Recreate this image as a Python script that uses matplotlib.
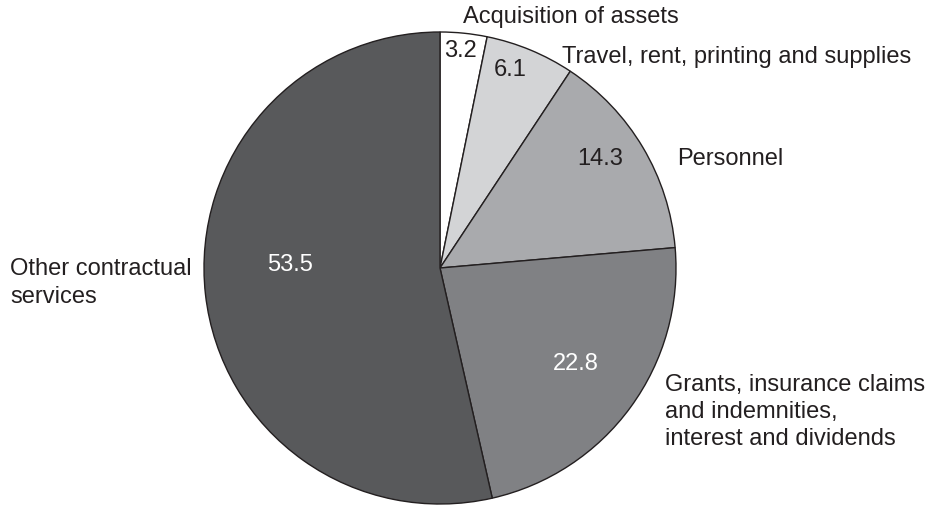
import matplotlib
matplotlib.use('Agg')
import matplotlib.pyplot as plt

# Shares of expenditure (percent)
categories = ['Acquisition of assets', 'Travel, rent, printing and supplies',
              'Personnel', 'Grants, insurance claims\nand indemnities,\ninterest and dividends',
              'Other contractual\nservices']
values = [3.2, 6.1, 14.3, 22.8, 53.5]
colors = ['#ffffff', '#d3d4d6', '#a9aaad', '#808184', '#58595b']
value_colors = ['#231f20', '#231f20', '#231f20', '#ffffff', '#ffffff']

plt.rcParams['font.family'] = ['Liberation Sans', 'DejaVu Sans']

W, H = 944, 506
fig = plt.figure(figsize=(W / 100, H / 100), dpi=100)
ax = fig.add_axes([0, 0, 1, 1])

# pie centre and radius in pixel units (y measured from the top)
cx, cy, r = 440, 269, 236
ax.pie(values, colors=colors, startangle=90, counterclock=False,
       center=(cx, H - cy), radius=r, frame=True,
       wedgeprops=dict(edgecolor='#231f20', linewidth=1.0))
ax.set_xlim(0, W)
ax.set_ylim(0, H)
ax.axis('off')

# value labels inside the slices
value_pos = [(460, 51), (510, 70), (600, 159), (576, 364), (290, 265)]
for v, (x, y), c in zip(values, value_pos, value_colors):
    ax.text(x, H - y, f'{v:.1f}', ha='center', va='center', fontsize=17, color=c)

# category labels outside
label_pos = [(463, 17), (562, 57), (677, 159), (665, 412), (10, 283)]
for lab, (x, y) in zip(categories, label_pos):
    ax.text(x, H - y, lab, ha='left', va='center', fontsize=17, color='#231f20',
            linespacing=1.32)

fig.savefig('out.png', dpi=100)
